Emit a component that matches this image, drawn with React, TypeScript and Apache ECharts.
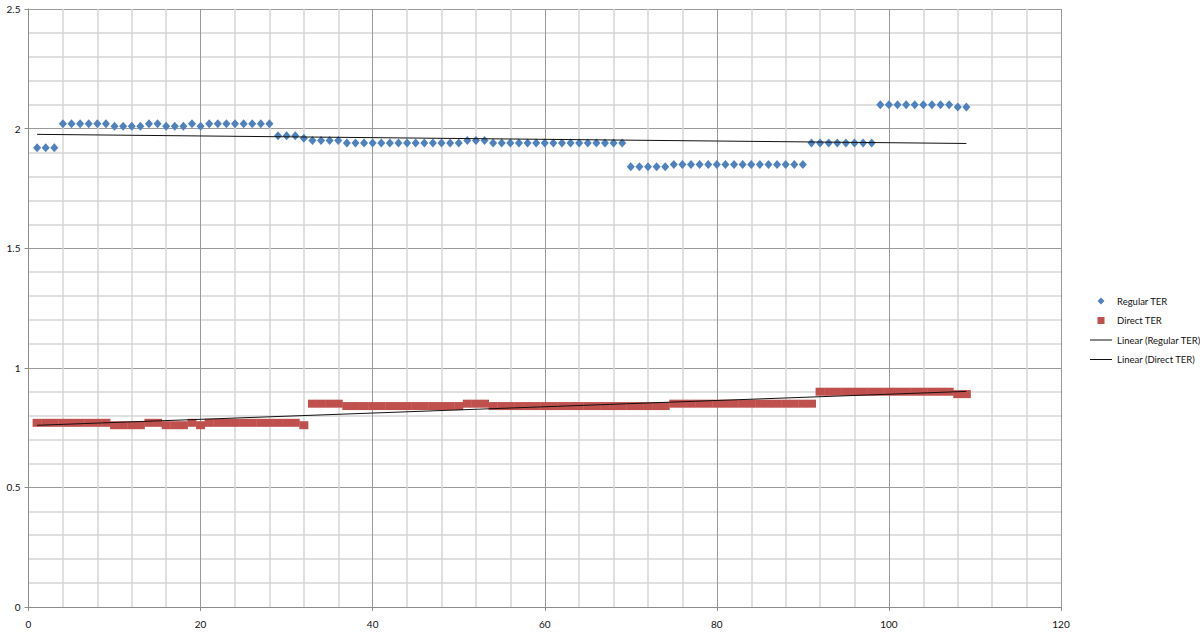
import React, { useEffect, useRef } from "react";
import * as echarts from "echarts";

// Regular TER values for x = 1 .. 109
const regularTER: number[] = [
  1.92, 1.92, 1.92,
  2.02, 2.02, 2.02, 2.02, 2.02, 2.02,
  2.01, 2.01, 2.01, 2.01,
  2.02, 2.02,
  2.01, 2.01, 2.01,
  2.02,
  2.01,
  2.02, 2.02, 2.02, 2.02, 2.02, 2.02, 2.02, 2.02,
  1.97, 1.97, 1.97,
  1.96,
  1.95, 1.95, 1.95, 1.95,
  1.94, 1.94, 1.94, 1.94, 1.94, 1.94, 1.94, 1.94, 1.94, 1.94, 1.94, 1.94, 1.94, 1.94,
  1.95, 1.95, 1.95,
  1.94, 1.94, 1.94, 1.94, 1.94, 1.94, 1.94, 1.94, 1.94, 1.94, 1.94, 1.94, 1.94, 1.94, 1.94, 1.94,
  1.84, 1.84, 1.84, 1.84, 1.84,
  1.85, 1.85, 1.85, 1.85, 1.85, 1.85, 1.85, 1.85, 1.85, 1.85, 1.85, 1.85, 1.85, 1.85, 1.85, 1.85,
  1.94, 1.94, 1.94, 1.94, 1.94, 1.94, 1.94, 1.94,
  2.1, 2.1, 2.1, 2.1, 2.1, 2.1, 2.1, 2.1, 2.1,
  2.09, 2.09,
];

// Direct TER values for x = 1 .. 109
const directTER: number[] = [
  0.77, 0.77, 0.77, 0.77, 0.77, 0.77, 0.77, 0.77, 0.77,
  0.76, 0.76, 0.76, 0.76,
  0.77, 0.77,
  0.76, 0.76, 0.76,
  0.77,
  0.76,
  0.77, 0.77, 0.77, 0.77, 0.77, 0.77, 0.77, 0.77, 0.77, 0.77, 0.77,
  0.76,
  0.85, 0.85, 0.85, 0.85,
  0.84, 0.84, 0.84, 0.84, 0.84, 0.84, 0.84, 0.84, 0.84, 0.84, 0.84, 0.84, 0.84, 0.84,
  0.85, 0.85, 0.85,
  0.84, 0.84, 0.84, 0.84, 0.84, 0.84, 0.84, 0.84, 0.84, 0.84, 0.84, 0.84, 0.84, 0.84, 0.84, 0.84, 0.84, 0.84, 0.84, 0.84, 0.84,
  0.85, 0.85, 0.85, 0.85, 0.85, 0.85, 0.85, 0.85, 0.85, 0.85, 0.85, 0.85, 0.85, 0.85, 0.85, 0.85, 0.85,
  0.9, 0.9, 0.9, 0.9, 0.9, 0.9, 0.9, 0.9, 0.9, 0.9, 0.9, 0.9, 0.9, 0.9, 0.9, 0.9,
  0.89, 0.89,
];

const seriesNames = ["Regular TER", "Direct TER", "Linear (Regular TER)", "Linear (Direct TER)"];

function toPoints(values: number[]): [number, number][] {
  return values.map((v, i) => [i + 1, v]);
}

function linearTrend(points: [number, number][]): [number, number][] {
  const n = points.length;
  let sx = 0, sy = 0, sxx = 0, sxy = 0;
  points.forEach(([x, y]) => {
    sx += x; sy += y; sxx += x * x; sxy += x * y;
  });
  const slope = (n * sxy - sx * sy) / (n * sxx - sx * sx);
  const intercept = (sy - slope * sx) / n;
  const x0 = points[0][0];
  const x1 = points[n - 1][0];
  return [
    [x0, intercept + slope * x0],
    [x1, intercept + slope * x1],
  ];
}

const FONT = "Lato, 'Liberation Sans', sans-serif";

export default function App() {
  const ref = useRef<HTMLDivElement>(null);

  useEffect(() => {
    if (!ref.current) return;
    const chart = echarts.init(ref.current, undefined, { renderer: "svg" });
    const regPts = toPoints(regularTER);
    const dirPts = toPoints(directTER);

    const axisCommon = {
      axisLine: { show: true, lineStyle: { color: "#8c8c8c", width: 1 } },
      axisTick: { show: true, length: 4, lineStyle: { color: "#8c8c8c" } },
      splitLine: { show: true, lineStyle: { color: "#9a9a9a", width: 1 } },
      minorTick: { show: false, splitNumber: 5 },
      minorSplitLine: { show: true, lineStyle: { color: "#d6d6d6", width: 1.5 } },
      axisLabel: { color: "#111", fontSize: 10, fontFamily: FONT },
    };

    const lineIcon = "path://M0,0 L22,0 L22,1 L0,1 Z";

    chart.setOption({
      animation: false,
      backgroundColor: "#ffffff",
      grid: { left: 28.5, right: 139, top: 9, bottom: 26, containLabel: false },
      xAxis: {
        type: "value",
        min: 0,
        max: 120,
        interval: 20,
        ...axisCommon,
        axisLabel: { ...axisCommon.axisLabel, margin: 12 },
      },
      yAxis: {
        type: "value",
        min: 0,
        max: 2.5,
        interval: 0.5,
        ...axisCommon,
        axisLabel: { ...axisCommon.axisLabel, margin: 8 },
      },
      legend: {
        orient: "vertical",
        left: 1085,
        top: 291,
        itemWidth: 22,
        itemHeight: 7,
        itemGap: 9.5,
        symbolKeepAspect: true,
        textStyle: { fontSize: 9.5, fontFamily: FONT, color: "#111" },
        data: [
          { name: seriesNames[0], icon: "path://M5,0 L10,5 L5,10 L0,5 Z" },
          { name: seriesNames[1], icon: "path://M0,0 L10,0 L10,10 L0,10 Z" },
          { name: seriesNames[2], icon: lineIcon },
          { name: seriesNames[3], icon: lineIcon },
        ],
      },
      series: [
        {
          name: seriesNames[0],
          type: "scatter",
          data: regPts,
          symbol: "diamond",
          symbolSize: [8, 9],
          itemStyle: { color: "#4f81bd", opacity: 1 },
          z: 2,
        },
        {
          name: seriesNames[1],
          type: "scatter",
          data: dirPts,
          symbol: "rect",
          symbolSize: [9, 8],
          itemStyle: { color: "#c0504d", opacity: 1 },
          z: 2,
        },
        {
          name: seriesNames[2],
          type: "line",
          data: linearTrend(regPts),
          symbol: "none",
          lineStyle: { color: "#111", width: 1 },
          itemStyle: { color: "#111" },
          z: 5,
        },
        {
          name: seriesNames[3],
          type: "line",
          data: linearTrend(dirPts),
          symbol: "none",
          lineStyle: { color: "#111", width: 1 },
          itemStyle: { color: "#111" },
          z: 5,
        },
      ],
    });
    return () => chart.dispose();
  }, []);

  return (
    <div
      ref={ref}
      style={{ position: "fixed", left: 0, top: 0, width: 1200, height: 633, background: "#fff" }}
    />
  );
}
